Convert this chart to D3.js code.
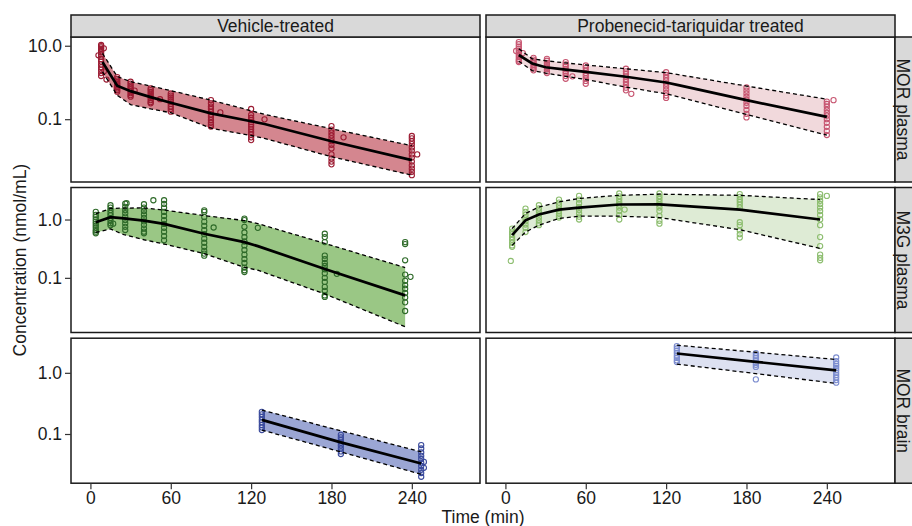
<!DOCTYPE html>
<html>
<head>
<meta charset="utf-8">
<script src="https://cdnjs.cloudflare.com/ajax/libs/d3/7.8.5/d3.min.js"></script>
<style>
  body { margin: 0; background: #fff; }
  svg text { font-family: "Liberation Sans", Arial, Helvetica, sans-serif; fill: #1a1a1a; }
</style>
</head>
<body>
<script>
/*global d3*/

// facet labels
var colLabels = ["Vehicle-treated", "Probenecid-tariquidar treated"];
var rowLabels = ["MOR plasma", "M3G plasma", "MOR brain"];

// tick labels
var timeTicks = [0, 60, 120, 180, 240];
var concTicks = [[10, 0.1], [1, 0.1], [1, 0.1]];

// prediction bands: [time, lower, median, upper]
var vehMorPlasmaBand = [
  [9, 1.95, 3.6, 6.2], [20, 0.45, 0.82, 1.45], [30, 0.25, 0.58, 1.05],
  [45, 0.19, 0.40, 0.80], [60, 0.15, 0.28, 0.60], [90, 0.057, 0.144, 0.33],
  [120, 0.036, 0.088, 0.17], [130, 0.03, 0.074, 0.135], [180, 0.0095, 0.025, 0.055],
  [240, 0.003, 0.0077, 0.019]
];
var proMorPlasmaBand = [
  [10, 3.8, 5.6, 8.3], [20, 2.1, 3.3, 4.4], [30, 1.8, 2.6, 3.9],
  [45, 1.47, 2.25, 3.4], [60, 1.2, 1.95, 3.0], [90, 0.75, 1.43, 2.36],
  [120, 0.49, 1.0, 1.85], [130, 0.4, 0.83, 1.61], [180, 0.135, 0.33, 0.8],
  [240, 0.037, 0.116, 0.35]
];
var vehM3gPlasmaBand = [
  [4, 0.6, 0.9, 1.25], [15, 0.69, 1.1, 1.55], [25, 0.55, 1.05, 1.57],
  [40, 0.45, 0.96, 1.58], [55, 0.38, 0.84, 1.45], [85, 0.26, 0.57, 1.17],
  [115, 0.152, 0.41, 0.96], [125, 0.135, 0.35, 0.85], [175, 0.053, 0.142, 0.39],
  [235, 0.0145, 0.05, 0.15]
];
var proM3gPlasmaBand = [
  [5, 0.36, 0.54, 0.7], [15, 0.61, 0.97, 1.27], [25, 0.8, 1.22, 1.64],
  [40, 1.04, 1.48, 2.0], [55, 1.14, 1.6, 2.3], [85, 1.14, 1.81, 2.6],
  [115, 1.08, 1.82, 2.72], [175, 0.67, 1.48, 2.6], [235, 0.32, 1.0, 2.2]
];
var vehMorBrainBand = [
  [128, 0.116, 0.17, 0.246], [187, 0.051, 0.073, 0.113], [247, 0.022, 0.033, 0.051]
];
var proMorBrainBand = [
  [128, 1.39, 2.07, 2.83], [187, 0.97, 1.51, 2.17], [247, 0.67, 1.1, 1.65]
];

// observations: [time, [concentrations]]
var vehMorPlasmaObs = [
  [8, [10.5, 9.8, 9, 8.2, 7.4, 6.6, 5.8, 5, 4.3, 3.7, 3.1, 2.6, 2.2, 1.8, 1.5]],
  [6, [5.5]], [12, [1.2]], [10, [8.5, 2.0]],
  [20, [1.4, 1.25, 1.12, 1.0, 0.92, 0.84, 0.76, 0.69, 0.62, 0.56]],
  [30, [1.05, 0.93, 0.82, 0.73, 0.65, 0.58, 0.51, 0.45, 0.41]], [33, [0.6]],
  [45, [0.69, 0.62, 0.55, 0.49, 0.43, 0.38, 0.33, 0.29, 0.27]], [52, [0.35]],
  [60, [0.5, 0.44, 0.39, 0.34, 0.3, 0.26, 0.22, 0.19, 0.16]],
  [90, [0.33, 0.27, 0.22, 0.19, 0.16, 0.135, 0.115, 0.095, 0.08, 0.07, 0.063]], [97, [0.153]],
  [120, [0.19, 0.13, 0.11, 0.095, 0.083, 0.072, 0.062, 0.053, 0.045, 0.038, 0.032, 0.027]],
  [130, [0.099]],
  [180, [0.065, 0.052, 0.043, 0.036, 0.03, 0.025, 0.02, 0.016, 0.011, 0.0085, 0.007, 0.0059]],
  [189, [0.032]],
  [240, [0.035, 0.03, 0.025, 0.021, 0.017, 0.014, 0.011, 0.009, 0.007, 0.0055, 0.0045,
    0.0037, 0.003]],
  [244, [0.011]]
];
var proMorPlasmaObs = [
  [10, [12.6, 11, 9.5, 8.3, 7.3, 6.4, 5.6, 4.9, 4.3, 3.9, 3.6]], [8, [7.2]], [13, [6.3]],
  [21, [4.7, 4.2, 3.8, 3.4, 3.0, 2.7, 2.4, 2.14]],
  [31, [4.4, 3.9, 3.4, 3.0, 2.6, 2.3, 2.0, 1.8]],
  [45, [3.6, 3.1, 2.7, 2.3, 2.0, 1.75, 1.5, 1.26]], [50, [1.47]],
  [60, [2.9, 2.5, 2.1, 1.8, 1.55, 1.3, 1.1, 0.92]],
  [90, [2.36, 2.0, 1.7, 1.45, 1.22, 1.03, 0.86, 0.72, 0.61]], [94, [0.49]],
  [120, [1.9, 1.6, 1.35, 1.12, 0.93, 0.78, 0.64, 0.52, 0.44, 0.38]],
  [180, [0.73, 0.6, 0.5, 0.41, 0.34, 0.28, 0.23, 0.18, 0.14, 0.112]],
  [240, [0.3, 0.26, 0.22, 0.18, 0.15, 0.125, 0.1, 0.08, 0.062, 0.048, 0.037]], [245, [0.33]]
];
var vehM3gPlasmaObs = [
  [4, [1.35, 1.2, 1.1, 1.0, 0.92, 0.85, 0.78, 0.72, 0.66, 0.62, 0.58]],
  [15, [1.76, 1.6, 1.45, 1.3, 1.18, 1.06, 0.95, 0.86, 0.8]], [17, [0.85]],
  [26, [1.88, 1.65, 1.45, 1.28, 1.12, 0.98, 0.86, 0.75, 0.66]], [27, [1.9]],
  [40, [1.83, 1.6, 1.4, 1.22, 1.07, 0.93, 0.81, 0.7, 0.62, 0.58]], [47, [2.14]],
  [55, [2.14, 1.85, 1.6, 1.35, 1.15, 0.98, 0.84, 0.72, 0.62, 0.52, 0.44]],
  [85, [1.44, 1.35, 1.1, 0.92, 0.78, 0.66, 0.56, 0.47, 0.4, 0.34, 0.29, 0.26, 0.24]],
  [92, [0.73]],
  [115, [1.04, 0.98, 0.75, 0.6, 0.5, 0.42, 0.36, 0.3, 0.25, 0.21, 0.18, 0.15, 0.135, 0.126]],
  [125, [0.72]],
  [175, [0.57, 0.5, 0.41, 0.24, 0.21, 0.18, 0.16, 0.14, 0.12, 0.1, 0.085, 0.07, 0.06, 0.05,
    0.047]],
  [184, [0.117]],
  [235, [0.41, 0.38, 0.2, 0.114, 0.089, 0.075, 0.065, 0.055, 0.046, 0.038, 0.027]],
  [239, [0.104]]
];
var proM3gPlasmaObs = [
  [5, [0.7, 0.62, 0.56, 0.5, 0.45, 0.4, 0.36, 0.34]], [4, [0.195]],
  [15, [1.54, 1.35, 1.2, 1.05, 0.93, 0.82, 0.72, 0.61]],
  [25, [1.76, 1.55, 1.38, 1.22, 1.08, 0.96, 0.86, 0.8]],
  [40, [2.2, 1.95, 1.75, 1.55, 1.4, 1.25, 1.15, 1.08]],
  [55, [2.54, 2.2, 1.9, 1.65, 1.45, 1.28, 1.12, 1.0]],
  [85, [2.8, 2.5, 2.25, 2.0, 1.8, 1.6, 1.4, 1.2, 1.0]], [89, [1.48]],
  [115, [2.8, 2.5, 2.25, 2.0, 1.8, 1.6, 1.4, 1.15, 0.95, 0.85]],
  [175, [2.72, 2.45, 2.2, 2.0, 1.8, 1.6, 0.9, 0.8, 0.65, 0.56, 0.49]],
  [235, [2.72, 2.4, 2.1, 1.85, 1.6, 1.4, 1.2, 1.0, 0.8, 0.5, 0.35, 0.25, 0.22, 0.2]],
  [240, [2.54]]
];
var vehMorBrainObs = [
  [128, [0.23, 0.21, 0.19, 0.17, 0.155, 0.14, 0.128, 0.116]],
  [187, [0.097, 0.088, 0.08, 0.072, 0.065, 0.058, 0.052, 0.047]],
  [247, [0.066, 0.058, 0.05, 0.044, 0.039, 0.034, 0.03, 0.026, 0.023, 0.02]],
  [249, [0.035, 0.028]]
];
var proMorBrainObs = [
  [128, [2.73, 2.5, 2.3, 2.1, 1.9, 1.75, 1.6, 1.5]],
  [187, [2.1, 1.9, 1.75, 1.6, 1.45, 1.35, 1.25, 0.78]],
  [247, [1.78, 1.55, 1.4, 1.3, 1.2, 1.1, 1.0, 0.92, 0.84, 0.76, 0.69]]
];

// styles
var pointColors = [["#9c1c33", "#c75671"], ["#2e6a29", "#8cbd6e"], ["#3a4a9c", "#7b8ccf"]];
var bandColors = [["#d4868f", "#f1d9dc"], ["#9ac785", "#deebd5"], ["#9ba6d4", "#dde1f1"]];

var panels = [
  [[vehMorPlasmaBand, vehMorPlasmaObs], [proMorPlasmaBand, proMorPlasmaObs]],
  [[vehM3gPlasmaBand, vehM3gPlasmaObs], [proM3gPlasmaBand, proM3gPlasmaObs]],
  [[vehMorBrainBand, vehMorBrainObs], [proMorBrainBand, proMorBrainObs]]
];

var W = 912, H = 526,
  colX = [71, 486], panelW = 409,
  rowY = [37, 187.5, 338.2], panelH = 145,
  stripH = 22, fontSize = 17.5,
  yDomains = [[0.00195, 17.3], [0.01156, 3.54], [0.0157, 3.68]];

var svg = d3.select("body").append("svg")
  .attr("width", W)
  .attr("height", H);

var x = d3.scaleLinear().domain([-14.5, 290.9]).range([0, panelW]);

function drawPanel(g, band, obs, y, fill, stroke) {
  var area = d3.area()
      .x(function (d) { return x(d[0]); })
      .y0(function (d) { return y(d[1]); })
      .y1(function (d) { return y(d[3]); }),
    line = function (k) {
      return d3.line()
        .x(function (d) { return x(d[0]); })
        .y(function (d) { return y(d[k]); });
    },
    pts = [];

  obs.forEach(function (o) {
    o[1].forEach(function (v) { pts.push([o[0], v]); });
  });

  g.append("path")
    .datum(band)
    .attr("d", area)
    .attr("fill", fill);

  g.selectAll("circle.obs")
    .data(pts)
    .enter()
    .append("circle")
    .attr("class", "obs")
    .attr("cx", function (d) { return x(d[0]); })
    .attr("cy", function (d) { return y(d[1]); })
    .attr("r", 2.6)
    .attr("fill", "none")
    .attr("stroke", stroke)
    .attr("stroke-width", 1.1);

  [1, 3].forEach(function (k) {
    g.append("path")
      .datum(band)
      .attr("d", line(k))
      .attr("fill", "none")
      .attr("stroke", "#000")
      .attr("stroke-width", 1.3)
      .attr("stroke-dasharray", "4,3");
  });

  g.append("path")
    .datum(band)
    .attr("d", line(2))
    .attr("fill", "none")
    .attr("stroke", "#000")
    .attr("stroke-width", 2.7);

  // panel frame
  g.append("rect")
    .attr("width", panelW)
    .attr("height", panelH)
    .attr("fill", "none")
    .attr("stroke", "#1a1a1a")
    .attr("stroke-width", 1.5);
}

rowLabels.forEach(function (rowLabel, r) {
  var y = d3.scaleLog().domain(yDomains[r]).range([panelH, 0]),
    strip;

  colLabels.forEach(function (colLabel, c) {
    var g = svg.append("g")
      .attr("transform", "translate(" + colX[c] + "," + rowY[r] + ")");
    drawPanel(g, panels[r][c][0], panels[r][c][1], y, bandColors[r][c], pointColors[r][c]);
  });

  // y axis on left column only
  var ay = svg.append("g")
    .attr("transform", "translate(" + colX[0] + "," + rowY[r] + ")")
    .call(d3.axisLeft(y).tickValues(concTicks[r]).tickFormat(d3.format(".1f"))
      .tickSize(6).tickPadding(3));
  ay.select(".domain").remove();
  ay.selectAll("line").attr("stroke", "#333").attr("stroke-width", 1.2);
  ay.selectAll("text").attr("font-size", fontSize).attr("fill", "#1a1a1a");

  // row strip on the right
  strip = svg.append("g")
    .attr("transform", "translate(" + (colX[1] + panelW) + "," + rowY[r] + ")");
  strip.append("rect")
    .attr("width", 30)
    .attr("height", panelH)
    .attr("fill", "#d9d9d9")
    .attr("stroke", "#1a1a1a")
    .attr("stroke-width", 1.5);
  strip.append("text")
    .attr("transform", "translate(" + 8.5 + "," + (panelH / 2) + ") rotate(90)")
    .attr("text-anchor", "middle")
    .attr("dy", "0.35em")
    .attr("font-size", fontSize)
    .text(rowLabel);
});

colLabels.forEach(function (colLabel, c) {
  var strip = svg.append("g")
      .attr("transform", "translate(" + colX[c] + "," + (rowY[0] - stripH) + ")"),
    ax;
  strip.append("rect")
    .attr("width", panelW)
    .attr("height", stripH)
    .attr("fill", "#d9d9d9")
    .attr("stroke", "#1a1a1a")
    .attr("stroke-width", 1.5);
  strip.append("text")
    .attr("x", panelW / 2)
    .attr("y", stripH / 2)
    .attr("dy", "0.35em")
    .attr("text-anchor", "middle")
    .attr("font-size", fontSize)
    .text(colLabel);

  ax = svg.append("g")
    .attr("transform", "translate(" + colX[c] + "," + (rowY[2] + panelH) + ")")
    .call(d3.axisBottom(x).tickValues(timeTicks).tickSize(6).tickPadding(2));
  ax.select(".domain").remove();
  ax.selectAll("line").attr("stroke", "#333").attr("stroke-width", 1.2);
  ax.selectAll("text").attr("font-size", fontSize).attr("fill", "#1a1a1a");
});

// axis titles
svg.append("text")
  .attr("x", (colX[0] + colX[1] + panelW) / 2)
  .attr("y", 523)
  .attr("text-anchor", "middle")
  .attr("font-size", fontSize)
  .text("Time (min)");

svg.append("text")
  .attr("transform", "translate(26," + (rowY[0] + (rowY[2] + panelH - rowY[0]) / 2) +
    ") rotate(-90)")
  .attr("text-anchor", "middle")
  .attr("font-size", fontSize)
  .text("Concentration (nmol/mL)");
</script>
</body>
</html>
